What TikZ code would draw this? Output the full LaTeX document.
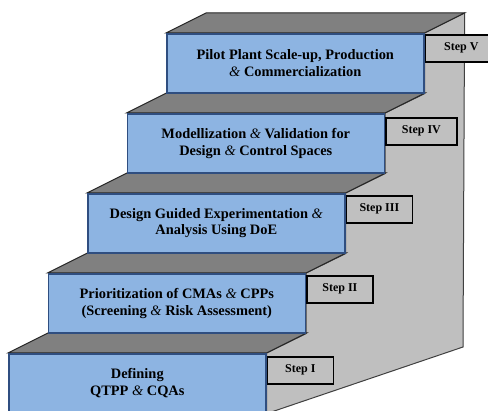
\documentclass[tikz,border=0pt]{standalone}
\usepackage{fontspec}
\setmainfont{Liberation Serif}
\usetikzlibrary{calc,backgrounds}

\definecolor{stepblue}{RGB}{141,180,226}
\definecolor{stepedge}{RGB}{47,78,128}
\definecolor{treadgray}{RGB}{128,128,128}
\definecolor{wallgray}{RGB}{191,191,191}
\definecolor{labgray}{RGB}{192,192,192}

\newcommand{\andsign}{{\mdseries\itshape\&}}

\begin{document}
\begin{tikzpicture}[
  x=1pt,y=-1pt,
  font=\fontsize{14.4}{16.5}\selectfont\bfseries,
  front/.style={draw=stepedge,line width=1.6pt,fill=stepblue,anchor=north west,
                minimum width=257pt,minimum height=59pt,align=center,inner sep=2pt},
  lab/.style={draw=black,line width=1.6pt,fill=labgray,anchor=north west,
              minimum width=66pt,minimum height=27pt,inner sep=2pt,
              font=\fontsize{12}{14}\selectfont\bfseries},
  tread/.style={draw=black!85,line width=1pt,fill=treadgray},
  wall/.style={draw=black!75,line width=1pt,fill=wallgray},
]
\useasboundingbox (0,0) rectangle (488,411);

\def\xA{8}\def\xB{47.5}\def\xC{87}\def\xD{126.5}\def\xE{166}
\def\yA{353}\def\yB{273}\def\yC{193}\def\yD{113}\def\yE{33}

% front faces of the stairs, bottom to top
\path (\xA,\yA) node[front] (s1) {Defining\\QTPP \andsign{} CQAs};
\path (\xB,\yB) node[front] (s2) {Prioritization of CMAs \andsign{} CPPs\\(Screening \andsign{} Risk Assessment)};
\path (\xC,\yC) node[front] (s3) {Design Guided Experimentation \andsign\\Analysis Using DoE};
\path (\xD,\yD) node[front] (s4) {Modellization \andsign{} Validation for\\Design \andsign{} Control Spaces};
\path (\xE,\yE) node[front] (s5) {Pilot Plant Scale-up, Production\\\andsign{} Commercialization};

\begin{scope}[on background layer]
% side wall behind the steps
\draw[wall] (s5.north east) -- ++(40,-20) coordinate (wt) -- (463,347) coordinate (wb)
  -- (s1.south east) -- (s1.north east) -- (s2.south east) -- (s2.north east)
  -- (s3.south east) -- (s3.north east) -- (s4.south east) -- (s4.north east)
  -- (s5.south east) -- cycle;
% treads on top of each step
\foreach \i in {1,...,5}{
  \draw[tread] (s\i.north west) -- (s\i.north east) -- ++(40,-20)
    -- ($(s\i.north west)+(40,-20)$) -- cycle;
}
\end{scope}

% step labels
\node[lab] (l1) at ($(s1.north east)+(0,3)$) {Step I};
\node[lab] (l2) at ($(s2.north east)+(0,2)$) {Step II};
\node[lab] (l3) at ($(s3.north east)+(0,2)$) {Step III};
\node[lab,minimum width=71pt] (l4) at ($(s4.north east)+(0,4)$) {Step IV};
\node[lab,minimum width=72pt] (l5) at ($(s5.north east)+(0,1)$) {Step V};
\end{tikzpicture}
\end{document}
